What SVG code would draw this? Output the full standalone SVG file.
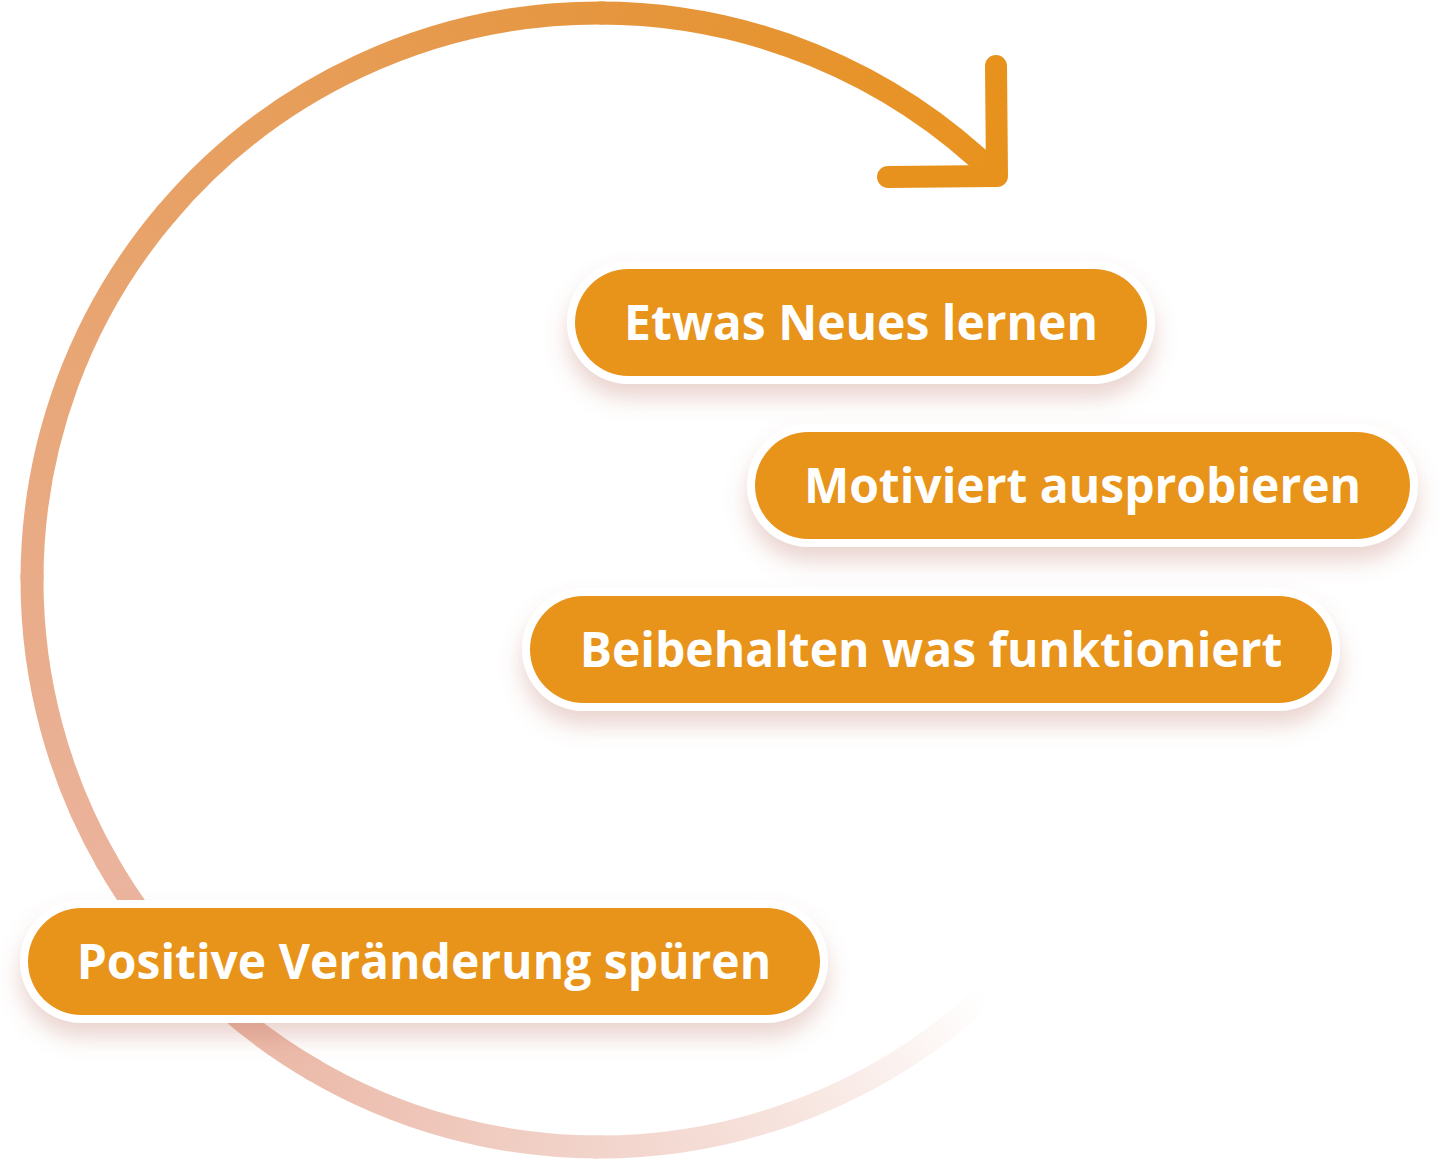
<svg xmlns="http://www.w3.org/2000/svg" width="1440" height="1161" viewBox="0 0 1440 1161">
<defs>
<style>
.seg{fill:none;stroke-width:23;stroke-linecap:butt}
.arrow{fill:none;stroke:#E8921E;stroke-width:22;stroke-linecap:round;stroke-linejoin:round}
.halo{fill:#FFFFFF;filter:url(#shadow)}
.pill{fill:#E8931A}
.label{font-family:"Open Sans","Noto Sans","Liberation Sans",sans-serif;font-weight:700;font-size:48px;fill:#FFFFFF;text-anchor:middle}
</style>
<filter id="shadow" x="-10%" y="-40%" width="120%" height="190%">
<feDropShadow dx="0" dy="14" stdDeviation="11" flood-color="#B46450" flood-opacity="0.28"/>
</filter>
<linearGradient id="g1" gradientUnits="userSpaceOnUse" x1="985.7" y1="994.7" x2="792.9" y2="1112.8"><stop offset="0" stop-color="#FFFFFF"/><stop offset="1" stop-color="#F7E4DE"/></linearGradient>
<linearGradient id="g2" gradientUnits="userSpaceOnUse" x1="792.9" y1="1112.8" x2="599" y2="1147"><stop offset="0" stop-color="#F7E4DE"/><stop offset="1" stop-color="#F2D4CB"/></linearGradient>
<linearGradient id="g3" gradientUnits="userSpaceOnUse" x1="599" y1="1147" x2="315.5" y2="1071"><stop offset="0" stop-color="#F2D4CB"/><stop offset="1" stop-color="#ECBCAC"/></linearGradient>
<linearGradient id="g4" gradientUnits="userSpaceOnUse" x1="315.5" y1="1071" x2="108" y2="863.5"><stop offset="0" stop-color="#ECBCAC"/><stop offset="1" stop-color="#EBB39C"/></linearGradient>
<linearGradient id="g5" gradientUnits="userSpaceOnUse" x1="108" y1="863.5" x2="32" y2="580"><stop offset="0" stop-color="#EBB39C"/><stop offset="1" stop-color="#E9AC88"/></linearGradient>
<linearGradient id="g6" gradientUnits="userSpaceOnUse" x1="32" y1="580" x2="164.7" y2="215.5"><stop offset="0" stop-color="#E9AC88"/><stop offset="1" stop-color="#E8A268"/></linearGradient>
<linearGradient id="g7" gradientUnits="userSpaceOnUse" x1="164.7" y1="215.5" x2="599" y2="13"><stop offset="0" stop-color="#E8A268"/><stop offset="1" stop-color="#E5963F"/></linearGradient>
<linearGradient id="g8" gradientUnits="userSpaceOnUse" x1="599" y1="13" x2="997.1" y2="176.3"><stop offset="0" stop-color="#E5963F"/><stop offset="1" stop-color="#E8921E"/></linearGradient>
</defs>
<rect width="1440" height="1161" fill="#FFFFFF"/>
<g id="connectors">
<circle class="seg" cx="599" cy="580" r="567" pathLength="360" stroke="url(#g1)" stroke-dasharray="23.6 360" stroke-dashoffset="-47"/>
<circle class="seg" cx="599" cy="580" r="567" pathLength="360" stroke="url(#g2)" stroke-dasharray="20.6 360" stroke-dashoffset="-70"/>
<circle class="seg" cx="599" cy="580" r="567" pathLength="360" stroke="url(#g3)" stroke-dasharray="30.6 360" stroke-dashoffset="-90"/>
<circle class="seg" cx="599" cy="580" r="567" pathLength="360" stroke="url(#g4)" stroke-dasharray="30.6 360" stroke-dashoffset="-120"/>
<circle class="seg" cx="599" cy="580" r="567" pathLength="360" stroke="url(#g5)" stroke-dasharray="30.6 360" stroke-dashoffset="-150"/>
<circle class="seg" cx="599" cy="580" r="567" pathLength="360" stroke="url(#g6)" stroke-dasharray="40.6 360" stroke-dashoffset="-180"/>
<circle class="seg" cx="599" cy="580" r="567" pathLength="360" stroke="url(#g7)" stroke-dasharray="50.6 360" stroke-dashoffset="-220"/>
<circle class="seg" cx="599" cy="580" r="567" pathLength="360" stroke="url(#g8)" stroke-dasharray="44.6 360" stroke-dashoffset="-270"/>
<path class="arrow" d="M996,66 L997,176 L888,177"/>
</g>
<g id="node-etwas-neues-lernen">
<rect class="halo" x="567" y="261" width="588" height="123" rx="61.5"/>
<rect class="pill" x="575" y="269" width="572" height="107" rx="53.5"/>
<text class="label" x="861" y="339.5">Etwas Neues lernen</text>
</g>
<g id="node-motiviert-ausprobieren">
<rect class="halo" x="747" y="424" width="671" height="123" rx="61.5"/>
<rect class="pill" x="755" y="432" width="655" height="107" rx="53.5"/>
<text class="label" x="1082.5" y="502.5">Motiviert ausprobieren</text>
</g>
<g id="node-beibehalten">
<rect class="halo" x="522" y="588" width="818" height="123" rx="61.5"/>
<rect class="pill" x="530" y="596" width="802" height="107" rx="53.5"/>
<text class="label" x="931" y="666.5">Beibehalten was funktioniert</text>
</g>
<g id="node-positive-veraenderung">
<rect class="halo" x="20" y="900" width="808" height="123" rx="61.5"/>
<rect class="pill" x="28" y="908" width="792" height="107" rx="53.5"/>
<text class="label" x="424" y="978.5">Positive Veränderung spüren</text>
</g>
</svg>
